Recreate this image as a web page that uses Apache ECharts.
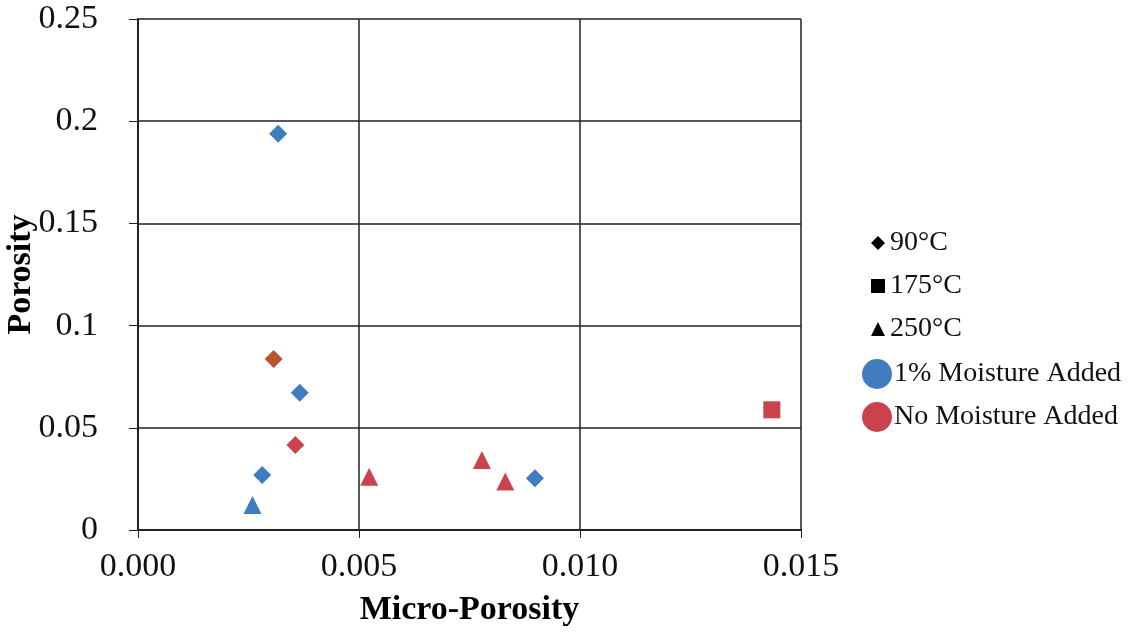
<!DOCTYPE html>
<html><head><meta charset="utf-8">
<script src="https://cdn.jsdelivr.net/npm/echarts@6/dist/echarts.min.js"></script>
<style>html,body{margin:0;padding:0;background:#fff}#c{width:1130px;height:634px}</style>
</head><body><div id="c"></div>
<script>
// Data: [micro-porosity, porosity]
const moist90 = [[0.00317, 0.1938], [0.00366, 0.0672], [0.00281, 0.0269], [0.00898, 0.0253]];
const dry90 = [[0.00307, 0.0836], [0.00356, 0.0416]];
const dry175 = [[0.01434, 0.0588]];
const moist250 = [[0.00259, 0.0122]];
const dry250 = [[0.00523, 0.0261], [0.00778, 0.0343], [0.00831, 0.0237]];
const tempNames = ['90°C', '175°C', '250°C'];
const moistNames = ['1% Moisture Added', 'No Moisture Added'];

const BLUE = '#3f7cc0', RED = '#c8434e', BROWN = '#b8552f';
const font = 'Liberation Serif';
const chart = echarts.init(document.getElementById('c'));
chart.setOption({
  animation: false,
  backgroundColor: '#fff',
  grid: {left: 138, right: 329, top: 19, bottom: 104, containLabel: false, outerBoundsMode: 'none'},
  xAxis: {
    type: 'value', min: 0, max: 0.015, interval: 0.005,
    name: 'Micro-Porosity', nameLocation: 'middle', nameGap: 63, nameMoveOverlap: false,
    nameTextStyle: {fontFamily: font, fontSize: 34, fontWeight: 'bold', color: '#000'},
    axisLine: {show: true, lineStyle: {color: '#222', width: 2}},
    axisTick: {show: true, length: 8, lineStyle: {color: '#222'}},
    axisLabel: {fontFamily: font, fontSize: 34, color: '#111', margin: 20,
      formatter: v => v.toFixed(3)},
    splitLine: {show: true, lineStyle: {color: '#222', width: 1.5}}
  },
  yAxis: {
    type: 'value', min: 0, max: 0.25, interval: 0.05,
    name: 'Porosity', nameLocation: 'middle', nameGap: 100, nameMoveOverlap: false,
    nameTextStyle: {fontFamily: font, fontSize: 34, fontWeight: 'bold', color: '#000'},
    axisLine: {show: true, lineStyle: {color: '#222', width: 2}},
    axisTick: {show: true, length: 9, lineStyle: {color: '#222'}},
    axisLabel: {fontFamily: font, fontSize: 34, color: '#111', margin: 40,
      formatter: v => String(+v.toFixed(3))},
    splitLine: {show: true, lineStyle: {color: '#222', width: 1.5}}
  },
  legend: [
    {data: tempNames, orient: 'vertical', left: 866, top: 224, itemWidth: 14, itemHeight: 14, itemGap: 15,
      textStyle: {fontFamily: font, fontSize: 28, color: '#111', lineHeight: 28, padding: [0,0,0,0]}},
    {data: moistNames, orient: 'vertical', left: 857, top: 354, itemWidth: 30, itemHeight: 30, itemGap: 13,
      textStyle: {fontFamily: font, fontSize: 28, color: '#111', lineHeight: 30, padding: [0,0,0,-3]}}
  ],
  series: [
    {name: '90°C', type: 'scatter', symbol: 'diamond', data: [], itemStyle: {color: '#000', opacity: 1}},
    {name: '175°C', type: 'scatter', symbol: 'rect', data: [], itemStyle: {color: '#000', opacity: 1}},
    {name: '250°C', type: 'scatter', symbol: 'triangle', data: [], itemStyle: {color: '#000', opacity: 1}},
    {name: '1% Moisture Added', type: 'scatter', symbol: 'circle', data: [], itemStyle: {color: BLUE, opacity: 1}},
    {name: 'No Moisture Added', type: 'scatter', symbol: 'circle', data: [], itemStyle: {color: RED, opacity: 1}},
    {name: 'm90', type: 'scatter', symbol: 'diamond', symbolSize: 18, data: moist90, itemStyle: {color: BLUE, opacity: 1}},
    {name: 'd90', type: 'scatter', symbol: 'diamond', symbolSize: 18, data: dry90,
      itemStyle: {color: p => p.dataIndex === 0 ? BROWN : RED, opacity: 1}},
    {name: 'd175', type: 'scatter', symbol: 'rect', symbolSize: 17, data: dry175, itemStyle: {color: RED, opacity: 1}},
    {name: 'm250', type: 'scatter', symbol: 'triangle', symbolSize: 18, data: moist250, itemStyle: {color: BLUE, opacity: 1}},
    {name: 'd250', type: 'scatter', symbol: 'triangle', symbolSize: 18, data: dry250, itemStyle: {color: RED, opacity: 1}}
  ]
});
</script></body></html>
